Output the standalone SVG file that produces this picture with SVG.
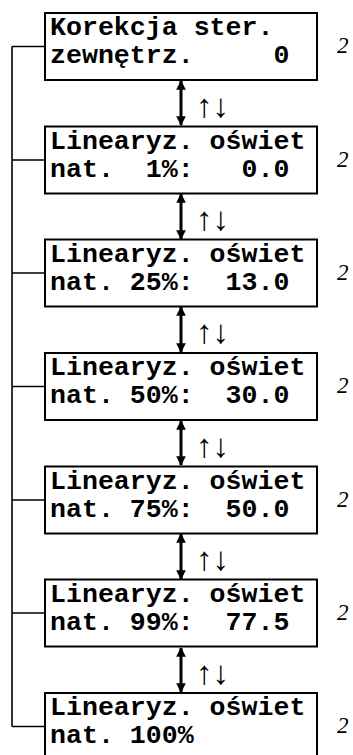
<svg xmlns="http://www.w3.org/2000/svg" width="353" height="755" viewBox="0 0 353 755">
  <style>
    .box { fill: #fff; stroke: #000; stroke-width: 2; }
    .lcd { font-family: "Liberation Mono", "Courier New", monospace; font-weight: bold; font-size: 26.6px; fill: #000; white-space: pre; }
    .num { font-family: "Liberation Serif", "Times New Roman", serif; font-style: italic; font-size: 23px; fill: #000; }
    .keys { font-family: "Liberation Serif", "Times New Roman", serif; font-size: 33px; fill: #000; }
    .link { fill: none; stroke: #000; stroke-width: 1.6; }
    .nav { stroke: #000; stroke-width: 3; marker-start: url(#head); marker-end: url(#head); }
  </style>
  <defs>
    <marker id="head" viewBox="0 0 10 10" refX="9" refY="5" markerWidth="3.4" markerHeight="3.2" orient="auto-start-reverse" markerUnits="strokeWidth">
      <path d="M0,0 L10,5 L0,10 Z" fill="#000"/>
    </marker>
  </defs>

  <!-- return path on the left and navigation arrows between screens -->
  <g id="connectors">
    <path class="link" d="M12,46.5 V726.5 M12,46.5 H45 M12,160 H45 M12,273 H45 M12,386.5 H45 M12,500 H45 M12,613 H45 M12,726.5 H45"/>
    <line class="nav" x1="181" y1="81" x2="181" y2="125"/>
    <line class="nav" x1="181" y1="194" x2="181" y2="239"/>
    <line class="nav" x1="181" y1="307" x2="181" y2="352"/>
    <line class="nav" x1="181" y1="421" x2="181" y2="465"/>
    <line class="nav" x1="181" y1="534" x2="181" y2="579"/>
    <line class="nav" x1="181" y1="648" x2="181" y2="692"/>
    <text class="keys" x="196" y="117">↑↓</text>
    <text class="keys" x="196" y="230">↑↓</text>
    <text class="keys" x="196" y="343">↑↓</text>
    <text class="keys" x="196" y="457">↑↓</text>
    <text class="keys" x="196" y="570">↑↓</text>
    <text class="keys" x="196" y="684">↑↓</text>
  </g>

  <g id="screen1">
    <rect class="box" x="45" y="13" width="272" height="67"/>
    <text class="lcd" x="50" y="35">Korekcja ster.</text>
    <text class="lcd" x="50" y="63">zewnętrz.     0</text>
    <text class="num" x="337" y="53">2</text>
  </g>
  <g id="screen2">
    <rect class="box" x="45" y="126.5" width="272" height="67"/>
    <text class="lcd" x="50" y="148.5">Linearyz. oświet</text>
    <text class="lcd" x="50" y="176.5">nat.  1%:   0.0</text>
    <text class="num" x="337" y="166.5">2</text>
  </g>
  <g id="screen3">
    <rect class="box" x="45" y="239.5" width="272" height="67"/>
    <text class="lcd" x="50" y="261.5">Linearyz. oświet</text>
    <text class="lcd" x="50" y="289.5">nat. 25%:  13.0</text>
    <text class="num" x="337" y="279.5">2</text>
  </g>
  <g id="screen4">
    <rect class="box" x="45" y="353" width="272" height="67"/>
    <text class="lcd" x="50" y="375">Linearyz. oświet</text>
    <text class="lcd" x="50" y="403">nat. 50%:  30.0</text>
    <text class="num" x="337" y="393">2</text>
  </g>
  <g id="screen5">
    <rect class="box" x="45" y="466.5" width="272" height="67"/>
    <text class="lcd" x="50" y="488.5">Linearyz. oświet</text>
    <text class="lcd" x="50" y="516.5">nat. 75%:  50.0</text>
    <text class="num" x="337" y="506.5">2</text>
  </g>
  <g id="screen6">
    <rect class="box" x="45" y="579.5" width="272" height="67"/>
    <text class="lcd" x="50" y="601.5">Linearyz. oświet</text>
    <text class="lcd" x="50" y="629.5">nat. 99%:  77.5</text>
    <text class="num" x="337" y="619.5">2</text>
  </g>
  <g id="screen7">
    <rect class="box" x="45" y="693" width="272" height="67"/>
    <text class="lcd" x="50" y="715">Linearyz. oświet</text>
    <text class="lcd" x="50" y="743">nat. 100%</text>
    <text class="num" x="337" y="733">2</text>
  </g>
</svg>
